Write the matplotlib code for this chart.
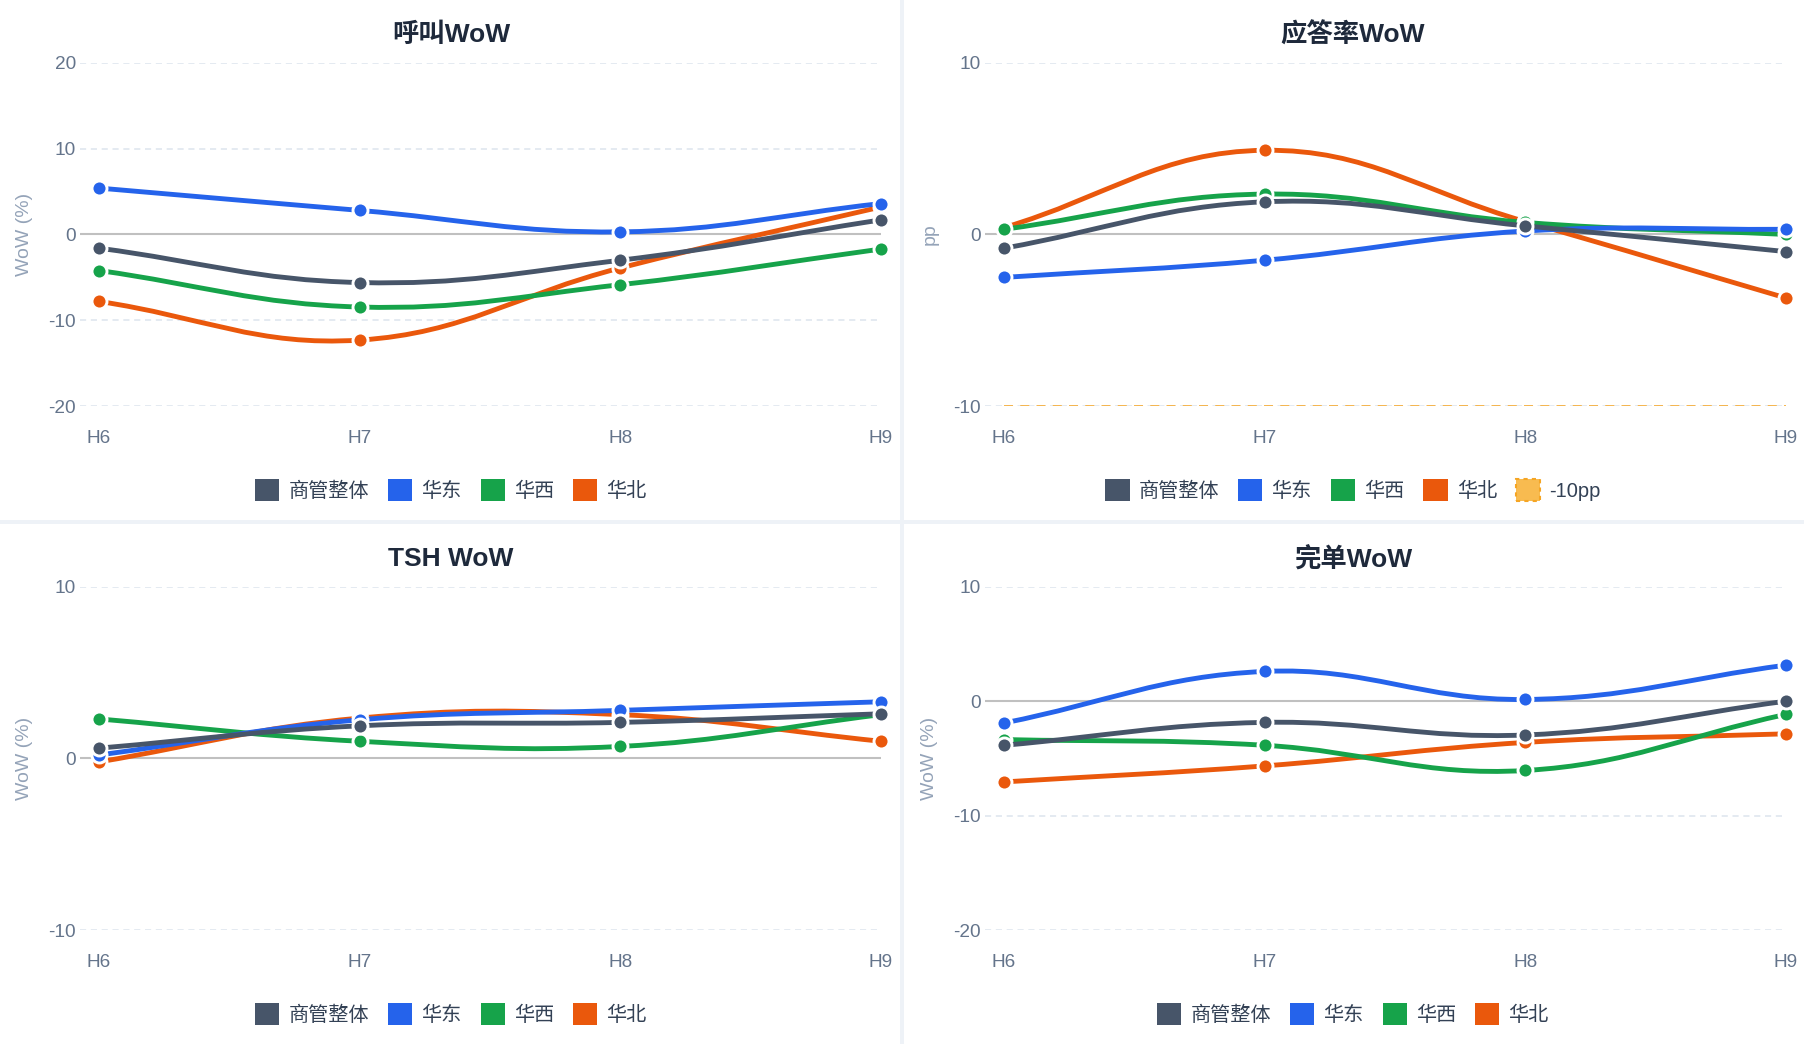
import numpy as np
import matplotlib
matplotlib.use("Agg")
import matplotlib.pyplot as plt
from matplotlib.path import Path
from matplotlib.patches import PathPatch, Patch, Rectangle

plt.rcParams["font.family"] = ["Liberation Sans", "Noto Sans CJK SC", "DejaVu Sans"]
plt.rcParams["axes.unicode_minus"] = False

hours = ["H6", "H7", "H8", "H9"]
regions = ["商管整体", "华东", "华西", "华北"]
colors = ["#475569", "#2563eb", "#16a34a", "#ea580c"]

# 呼叫WoW (%)
call_all = [-1.6, -5.6, -3.0, 1.7]
call_east = [5.4, 2.8, 0.3, 3.6]
call_west = [-4.2, -8.45, -5.85, -1.7]
call_north = [-7.8, -12.3, -3.9, 3.2]

# 应答率WoW (pp)
ans_all = [-0.8, 1.9, 0.5, -1.0]
ans_east = [-2.5, -1.5, 0.2, 0.3]
ans_west = [0.3, 2.35, 0.7, 0.0]
ans_north = [0.4, 4.9, 0.75, -3.7]
ans_floor = [-10, -10, -10, -10]

# TSH WoW (%)
tsh_all = [0.6, 1.9, 2.1, 2.6]
tsh_east = [0.2, 2.25, 2.8, 3.3]
tsh_west = [2.3, 1.0, 0.7, 2.55]
tsh_north = [-0.2, 2.35, 2.55, 1.0]

# 完单WoW (%)
done_all = [-3.85, -1.85, -2.95, 0.0]
done_east = [-1.9, 2.6, 0.15, 3.15]
done_west = [-3.35, -3.85, -6.05, -1.15]
done_north = [-7.05, -5.65, -3.6, -2.85]

panels = [
    ("呼叫WoW", "WoW (%)", [call_all, call_east, call_west, call_north], [-20, -10, 0, 10, 20]),
    ("应答率WoW", "pp", [ans_all, ans_east, ans_west, ans_north], [-10, 0, 10]),
    ("TSH WoW", "WoW (%)", [tsh_all, tsh_east, tsh_west, tsh_north], [-10, 0, 10]),
    ("完单WoW", "WoW (%)", [done_all, done_east, done_west, done_north], [-20, -10, 0, 10]),
]

W, H = 1804, 1044
fig = plt.figure(figsize=(W / 100, H / 100), dpi=100)
fig.patch.set_facecolor("white")

# panel separators
fig.add_artist(Rectangle((900 / W, 0), 4 / W, 1, transform=fig.transFigure,
                         color="#eef2f7", lw=0))
fig.add_artist(Rectangle((0, 1 - 524 / H), 1, 4 / H, transform=fig.transFigure,
                         color="#eef2f7", lw=0))


def smooth_path(ax, xs, ys, t=0.4):
    # spline with tension t (chart.js style), worked out in pixel space
    pts = ax.transData.transform(np.column_stack([xs, ys]))
    n = len(pts)
    cps = []
    for k in range(n):
        prev = pts[max(k - 1, 0)]
        nxt = pts[min(k + 1, n - 1)]
        p = pts[k]
        d01 = np.hypot(*(p - prev))
        d12 = np.hypot(*(nxt - p))
        s01 = d01 / (d01 + d12)
        s12 = d12 / (d01 + d12)
        v = nxt - prev
        cps.append((p - t * s01 * v, p + t * s12 * v))
    verts = [pts[0]]
    codes = [Path.MOVETO]
    for k in range(1, n):
        verts += [cps[k - 1][1], cps[k][0], pts[k]]
        codes += [Path.CURVE4] * 3
    verts = ax.transData.inverted().transform(np.array(verts))
    return Path(verts, codes)


for i, (title, ylabel, series, yticks) in enumerate(panels):
    col, row = i % 2, i // 2
    x0 = 80 if col == 0 else 985
    top = 62.7 + row * 524
    ax = fig.add_axes([x0 / W, 1 - (top + 343.5) / H, 801 / W, 343.5 / H])
    ax.set_xlim(-0.073, 3.0)
    ax.set_ylim(yticks[0], yticks[-1])
    for s in ax.spines.values():
        s.set_visible(False)
    ax.set_xticks(range(len(hours)))
    ax.set_xticklabels(hours)
    ax.set_yticks(yticks)
    ax.tick_params(axis="both", length=0, labelsize=13.7, colors="#64748b")
    ax.tick_params(axis="x", pad=17)
    ax.tick_params(axis="y", pad=3)
    for t in yticks:
        if t != 0:
            ax.axhline(t, color="#e2e8f0", lw=1.3, ls=(0, (3.4, 2.6)), zorder=0)
    ax.axhline(0, color="#c0c0c0", lw=1.5, zorder=1)
    ax.text(-0.069, 0.5, ylabel, transform=ax.transAxes, rotation=90,
            ha="center", va="center", fontsize=14, color="#94a3b8")

    xs = np.arange(len(hours))
    if i == 1:
        ax.plot(xs, ans_floor, color="#f5b041", lw=1.3, ls=(0, (5, 4)), zorder=2)

    # draw 华北 first so 商管整体 ends on top
    for j in reversed(range(len(series))):
        z = 3 + (len(series) - j)
        ax.add_patch(PathPatch(smooth_path(ax, xs, series[j]), fill=False,
                               edgecolor=colors[j], lw=3.5, zorder=z,
                               capstyle="round", joinstyle="round"))
        ax.plot(xs, series[j], ls="none", marker="o", ms=10.8, color=colors[j],
                markeredgecolor="white", markeredgewidth=2.1, zorder=z + 0.5,
                clip_on=False)

    handles = [Patch(facecolor=c, edgecolor="none", label=r)
               for c, r in zip(colors, regions)]
    if i == 1:
        handles.append(Patch(facecolor="#f8bb50", edgecolor="#f5a524",
                             linestyle=(0, (2, 2)), lw=1.5, label="-10pp"))

    cx = (451 if col == 0 else 1353) / W
    fig.text(cx, 1 - (35 + row * 524) / H, title, ha="center", va="center",
             fontsize=19, fontweight="bold", color="#1e293b")
    fig.legend(handles=handles, loc="center", bbox_to_anchor=(cx, 1 - (490 + row * 524) / H),
               ncol=len(handles), frameon=False, fontsize=14.5, labelcolor="#334155",
               handlelength=1.2, handleheight=1.35, handletextpad=0.45,
               columnspacing=0.95, borderaxespad=0)

fig.savefig("out.png", dpi=100, facecolor="white")
